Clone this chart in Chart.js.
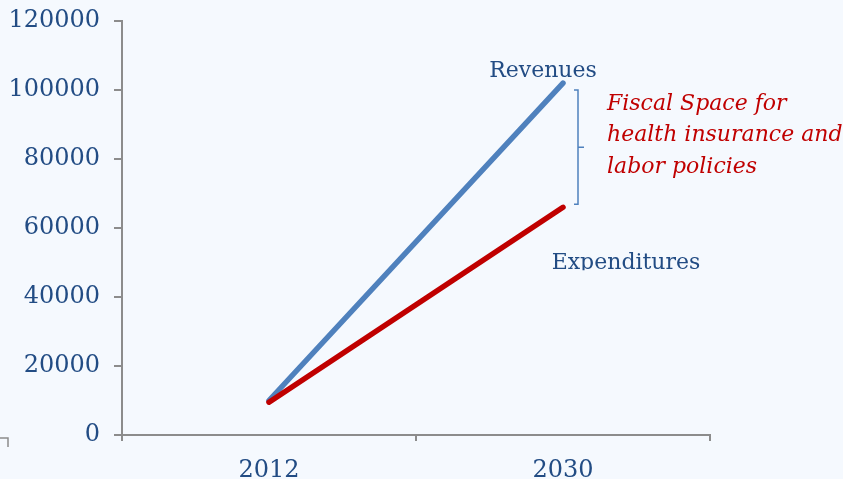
<!DOCTYPE html>
<html lang="en">
<head>
    <meta charset="UTF-8">
    <title>Revenues vs Expenditures</title>
    <style>
        body, html {
            margin: 0;
            padding: 0;
            background: #f5f9fe;
        }

        #wrap {
            width: 843px;
            height: 479px;
        }
    </style>
    <script src="https://cdn.jsdelivr.net/npm/chart.js"></script>
</head>
<body>

    <div id="wrap">
        <canvas id="fiscalChart" width="843" height="479"></canvas>
    </div>

    <script>
        // Data
        const years = ['2012', '2030'];
        const revenues = [10000, 102000];
        const expenditures = [9500, 66000];
        const yTicks = [0, 20000, 40000, 60000, 80000, 100000, 120000];
        const noteLines = ['Fiscal Space for', 'health insurance and', 'labor policies'];

        const navy = '#224c84';
        const blue = '#4f81bd';
        const red = '#c00000';
        const axisGrey = '#8c8c8c';

        // Labels, bracket and note drawn next to the 2030 end points
        const notes = {
            id: 'notes',
            afterDatasetsDraw(chart) {
                const ctx = chart.ctx;
                const x = chart.scales.x;
                const y = chart.scales.y;
                const px = x.getPixelForValue(1);
                const revY = y.getPixelForValue(revenues[1]);
                const expY = y.getPixelForValue(expenditures[1]);

                ctx.save();
                ctx.fillStyle = navy;
                ctx.font = '22px "DejaVu Serif"';
                ctx.textAlign = 'center';
                ctx.textBaseline = 'middle';
                ctx.fillText('Revenues', px - 20, revY - 12);

                // Expenditures label sits in a box that cuts off its descenders
                ctx.save();
                ctx.beginPath();
                ctx.rect(px - 20, expY + 30, 200, 33);
                ctx.clip();
                ctx.fillText('Expenditures', px + 63, expY + 56);
                ctx.restore();

                // bracket between the two end points
                const bx = px + 15;
                const top = revY + 7;
                const bot = expY - 3;
                const mid = (top + bot) / 2;
                ctx.strokeStyle = blue;
                ctx.lineWidth = 1.5;
                ctx.beginPath();
                ctx.moveTo(bx - 4, top);
                ctx.lineTo(bx, top);
                ctx.lineTo(bx, bot);
                ctx.lineTo(bx - 4, bot);
                ctx.moveTo(bx, mid);
                ctx.lineTo(bx + 6, mid);
                ctx.stroke();

                ctx.fillStyle = red;
                ctx.font = 'italic 22px "DejaVu Serif"';
                ctx.textAlign = 'left';
                noteLines.forEach((line, i) => {
                    ctx.fillText(line, bx + 29, top + 14 + i * 31.5);
                });

                // corner of the neighbouring frame at the bottom left
                ctx.strokeStyle = axisGrey;
                ctx.lineWidth = 1.5;
                ctx.beginPath();
                ctx.moveTo(0, 438);
                ctx.lineTo(8, 438);
                ctx.lineTo(8, 447);
                ctx.stroke();
                ctx.restore();
            }
        };

        const ctx = document.getElementById('fiscalChart').getContext('2d');
        new Chart(ctx, {
            type: 'line',
            data: {
                labels: years,
                datasets: [{
                    label: 'Expenditures',
                    data: expenditures,
                    borderColor: red,
                    borderWidth: 5.5,
                    borderCapStyle: 'round',
                    pointRadius: 0,
                    order: 0
                }, {
                    label: 'Revenues',
                    data: revenues,
                    borderColor: blue,
                    borderWidth: 5.5,
                    borderCapStyle: 'round',
                    pointRadius: 0,
                    order: 1
                }]
            },
            options: {
                responsive: false,
                animation: false,
                layout: {
                    padding: { top: 21, right: 133, left: 0, bottom: 0 }
                },
                plugins: {
                    legend: { display: false },
                    tooltip: { enabled: false }
                },
                scales: {
                    x: {
                        offset: true,
                        grid: {
                            offset: true,
                            drawOnChartArea: false,
                            drawTicks: true,
                            tickLength: 6,
                            color: axisGrey,
                            lineWidth: 2
                        },
                        border: { color: axisGrey, width: 2 },
                        ticks: {
                            color: navy,
                            padding: 15,
                            font: { family: '"DejaVu Serif"', size: 24 }
                        },
                        afterFit(scale) {
                            scale.height = 44;
                            scale.paddingLeft = 0;
                            scale.paddingRight = 0;
                        }
                    },
                    y: {
                        min: 0,
                        max: 120000,
                        afterBuildTicks(scale) {
                            scale.ticks = yTicks.map(v => ({ value: v }));
                        },
                        grid: {
                            drawOnChartArea: false,
                            drawTicks: true,
                            tickLength: 8,
                            color: axisGrey,
                            lineWidth: 2
                        },
                        border: { color: axisGrey, width: 2 },
                        ticks: {
                            color: navy,
                            padding: 14,
                            font: { family: '"DejaVu Serif"', size: 24 },
                            callback: v => String(v)
                        },
                        afterFit(scale) {
                            scale.width = 122;
                            scale.paddingTop = 0;
                            scale.paddingBottom = 0;
                        }
                    }
                }
            },
            plugins: [notes]
        });
    </script>
</body>
</html>
